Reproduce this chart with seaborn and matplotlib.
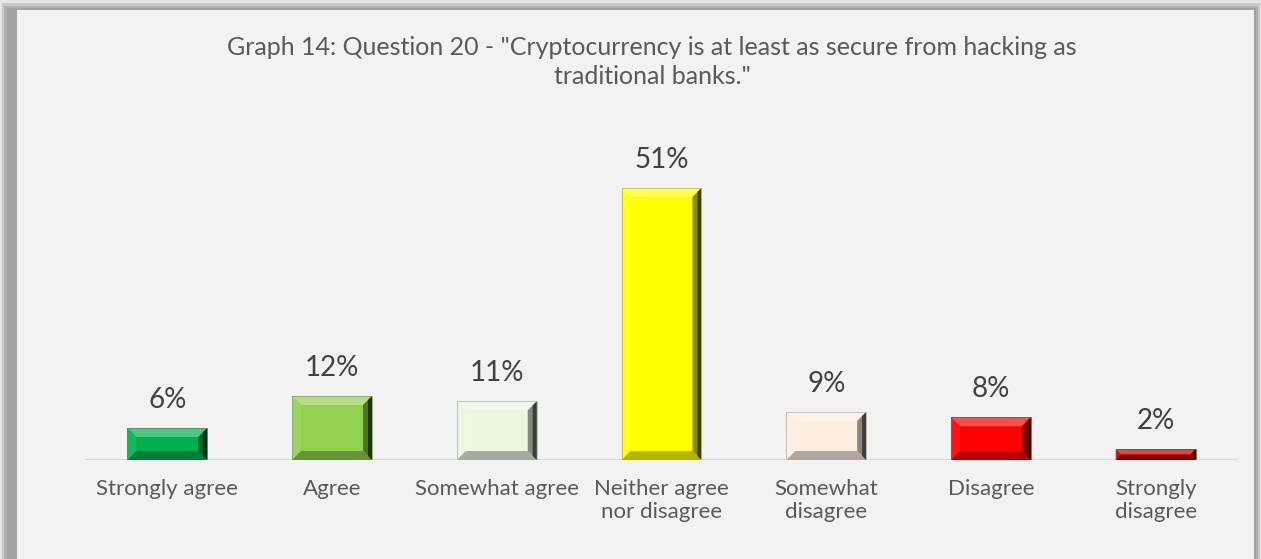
import matplotlib
matplotlib.use("Agg")
import matplotlib.pyplot as plt
import matplotlib.colors as mcolors
from matplotlib.patches import Polygon, Rectangle
from matplotlib.transforms import IdentityTransform
import seaborn as sns
import pandas as pd

# Survey answers and shares (percent)
categories = ["Strongly agree", "Agree", "Somewhat agree", "Neither agree\nnor disagree",
              "Somewhat\ndisagree", "Disagree", "Strongly\ndisagree"]
values = [6, 12, 11, 51, 9, 8, 2]
bar_colors = ["#00b050", "#92d050", "#ebf7e1", "#ffff00", "#fdeee2", "#ff0000", "#c00000"]
title = 'Graph 14: Question 20 - "Cryptocurrency is at least as secure from hacking as\ntraditional banks."'

sns.set_theme(style="white")
plt.rcParams['font.family'] = ['Lato', 'DejaVu Sans']

W, H = 1261, 559
fig = plt.figure(figsize=(W / 100, H / 100), dpi=100, facecolor="#ffffff")

def px_rect(x0, y0, x1, y1, color, z=0):
    # rectangle given in pixel coordinates measured from the top-left corner
    fig.patches.append(Rectangle((x0 / W, 1 - y1 / H), (x1 - x0) / W, (y1 - y0) / H,
                                 transform=fig.transFigure, facecolor=color,
                                 edgecolor="none", zorder=z))

# drop shadow around the chart panel
px_rect(0, 0, W, H, "#e6e6e6", -6)
px_rect(2, 3, W - 1, H, "#c8c8c8", -5)
px_rect(4, 6, W - 3, H, "#b0b0b0", -4)
px_rect(7, 8, W - 5, H, "#a2a2a2", -3)
px_rect(17, 10, 1254, H, "#f2f2f2", -1)

df = pd.DataFrame({"answer": categories, "share": values})

ax = fig.add_axes([85 / W, (H - 460) / H, 1153 / W, 320 / H])
ax.set_facecolor("none")
sns.barplot(data=df, x="answer", y="share", hue="answer", palette=bar_colors,
            width=0.485, saturation=1, legend=False, edgecolor="none", ax=ax)
ax.set_xlim(-0.5, len(categories) - 0.5)
ax.set_ylim(0, 60)
for s in ax.spines.values():
    s.set_visible(False)
ax.axhline(0, color="#d9d9d9", lw=1.6, zorder=1)
ax.set_xlabel("")
ax.set_ylabel("")
ax.set_yticks([])
ax.tick_params(axis="x", length=0, pad=14, labelsize=16, labelcolor="#595959")
for lab in ax.get_xticklabels():
    lab.set_linespacing(1.15)
    lab.set_verticalalignment("top")

fig.canvas.draw()

def mix(c, other, t):
    a = mcolors.to_rgb(c)
    b = mcolors.to_rgb(other)
    return tuple(a[i] * (1 - t) + b[i] * t for i in range(3))

# bevelled faces on every bar
for patch, col, v in zip(ax.patches, bar_colors, values):
    bb = patch.get_window_extent()
    x0, x1, y0, y1 = bb.x0, bb.x1, bb.y0, bb.y1
    b = min(9, (y1 - y0) / 2.2, (x1 - x0) / 2.2)
    faces = [
        ([(x0, y1), (x1, y1), (x1 - b, y1 - b), (x0 + b, y1 - b)], mix(col, "white", 0.3)),
        ([(x0, y0), (x0, y1), (x0 + b, y1 - b), (x0 + b, y0 + b)], mix(col, "white", 0.08)),
        ([(x1, y0), (x1, y1), (x1 - b, y1 - b), (x1 - b, y0 + b)], mix(col, "black", 0.45)),
        ([(x0, y0), (x1, y0), (x1 - b, y0 + b), (x0 + b, y0 + b)], mix(col, "black", 0.3)),
    ]
    for pts, fc in faces:
        ax.add_patch(Polygon(pts, closed=True, transform=IdentityTransform(),
                             facecolor=fc, edgecolor="none", zorder=3))
    # darker strip on the right edge
    ax.add_patch(Polygon([(x1 - b * 0.45, y0 + b * 0.45), (x1, y0), (x1, y1), (x1 - b * 0.45, y1 - b * 0.45)],
                         closed=True, transform=IdentityTransform(),
                         facecolor=mix(col, "black", 0.75), edgecolor="none", zorder=3))
    ax.add_patch(Rectangle((x0, y0), x1 - x0, y1 - y0, transform=IdentityTransform(),
                           facecolor="none", edgecolor=mix(col, "#808080", 0.5), lw=0.6, zorder=4))

for i, v in enumerate(values):
    ax.annotate(f"{v}%", (i, v), xytext=(0, 14.4), textcoords="offset points",
                ha="center", va="baseline", fontsize=20, color="#404040")

fig.text(652 / W, 1 - 36 / H, title, ha="center", va="top", fontsize=18,
         color="#595959", linespacing=1.3)

fig.savefig("out.png", dpi=100, facecolor=fig.get_facecolor())
